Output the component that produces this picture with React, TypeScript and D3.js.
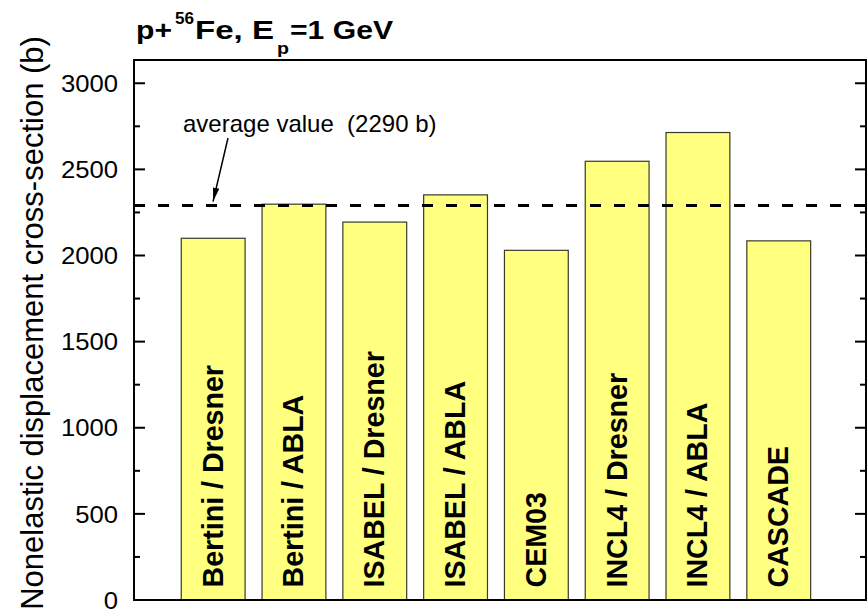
import React from "react";
import * as d3 from "d3";

const categories = [
  "Bertini / Dresner",
  "Bertini / ABLA",
  "ISABEL / Dresner",
  "ISABEL / ABLA",
  "CEM03",
  "INCL4 / Dresner",
  "INCL4 / ABLA",
  "CASCADE",
];
const values = [2100, 2298, 2194, 2352, 2030, 2547, 2714, 2085];
const averageValue = 2290;
const majorTicks = [0, 500, 1000, 1500, 2000, 2500, 3000];
const minorTicks = [250, 750, 1250, 1750, 2250, 2750];

const W = 868;
const H = 613;
const L = 134;
const R = 866;
const T = 60;
const B = 600;
const FONT = "'Liberation Sans', Arial, Helvetica, sans-serif";
const SX = 1.1; // horizontal stretch of glyphs in the reference

export default function App() {
  const x = d3.scaleLinear().domain([0.02, 9.08]).range([L, R]);
  const y = d3.scaleLinear().domain([0, 3135]).range([B, T]);
  const barW = x(0.79) - x(0);
  const yAvg = y(averageValue);

  return (
    <svg
      width={W}
      height={H}
      style={{ position: "absolute", left: 0, top: 0, background: "#fff" }}
      fontFamily={FONT}
    >
      <defs>
        <marker
          id="arr"
          viewBox="0 0 14 8"
          refX="14"
          refY="4"
          markerWidth="14"
          markerHeight="8"
          markerUnits="userSpaceOnUse"
          orient="auto"
        >
          <path d="M0,0.8 L14,4 L0,7.2 Z" fill="#000" />
        </marker>
      </defs>

      {/* bars */}
      {values.map((v, i) => (
        <rect
          key={i}
          x={x(i + 1) - barW / 2}
          y={y(v)}
          width={barW}
          height={y(0) - y(v)}
          fill="#ffff80"
          stroke="#3a3a2a"
          strokeWidth={1.2}
        />
      ))}

      {/* bar labels */}
      {categories.map((c, i) => {
        const cx = x(i + 1) + 9.5;
        const cy = 587.5;
        return (
          <text
            key={c}
            transform={`translate(${cx},${cy}) scale(1.06,1) rotate(-90)`}
            fontSize={28.6}
            fontWeight="bold"
            fill="#000"
          >
            {c}
          </text>
        );
      })}

      {/* average dashed line */}
      <line
        x1={L}
        x2={R}
        y1={yAvg}
        y2={yAvg}
        stroke="#000"
        strokeWidth={3}
        strokeDasharray="11,13"
      />
      <text x={183} y={132} fontSize={24} fill="#000" style={{ whiteSpace: "pre" }}>
        {"average value  (2290 b)"}
      </text>
      <line
        x1={228}
        y1={138}
        x2={213}
        y2={yAvg - 4}
        stroke="#000"
        strokeWidth={1.5}
        markerEnd="url(#arr)"
      />

      {/* frame */}
      <rect x={L} y={T} width={R - L} height={B - T} fill="none" stroke="#000" strokeWidth={2} />

      {/* ticks */}
      {majorTicks.map((t) => (
        <g key={"M" + t}>
          <line x1={L} x2={L + 11} y1={y(t)} y2={y(t)} stroke="#000" strokeWidth={2} />
          <line x1={R - 11} x2={R} y1={y(t)} y2={y(t)} stroke="#000" strokeWidth={2} />
          <text
            transform={`translate(118,${y(t)}) scale(1.07,1)`}
            dy="0.36em"
            textAnchor="end"
            fontSize={24}
            fill="#000"
          >
            {t}
          </text>
        </g>
      ))}
      {minorTicks.map((t) => (
        <g key={"m" + t}>
          <line x1={L} x2={L + 6} y1={y(t)} y2={y(t)} stroke="#000" strokeWidth={2} />
          <line x1={R - 6} x2={R} y1={y(t)} y2={y(t)} stroke="#000" strokeWidth={2} />
        </g>
      ))}

      {/* y axis label */}
      <text
        x={43}
        y={323}
        transform="rotate(-90 43 323)"
        textAnchor="middle"
        fontSize={31}
        fill="#000"
      >
        Nonelastic displacement cross-section (b)
      </text>

      {/* title */}
      <g fontWeight="bold" fill="#000">
        <text x={136} y={39} fontSize={26} textLength={36} lengthAdjust="spacingAndGlyphs">p+</text>
        <text x={175} y={24} fontSize={16} textLength={19} lengthAdjust="spacingAndGlyphs">56</text>
        <text x={195} y={39} fontSize={26} textLength={79} lengthAdjust="spacingAndGlyphs">Fe, E</text>
        <text x={277} y={54} fontSize={16} textLength={12} lengthAdjust="spacingAndGlyphs">p</text>
        <text x={290} y={39} fontSize={26} textLength={103} lengthAdjust="spacingAndGlyphs">=1 GeV</text>
      </g>
    </svg>
  );
}
